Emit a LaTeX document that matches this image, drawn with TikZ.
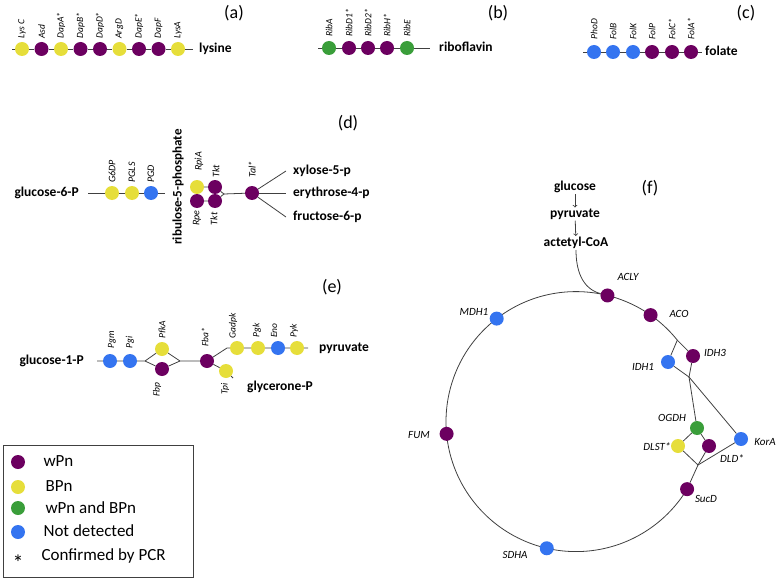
\documentclass[tikz,border=0pt]{standalone}
\usepackage{fontspec}
\setmainfont{Carlito}
\usepackage{tikz}
\usetikzlibrary{positioning, calc}
\definecolor{wpncol}{RGB}{108,0,96}
\definecolor{bpncol}{RGB}{230,222,58}
\definecolor{bothcol}{RGB}{58,158,58}
\definecolor{ndcol}{RGB}{52,116,240}

\begin{document}
\begin{tikzpicture}[
    x=1pt, y=1pt,
    >=to,
    genestate/.style={circle, minimum size=14pt, inner sep=0pt},
    wpnstate/.style={fill=wpncol},
    bpnstate/.style={fill=bpncol},
    bothstate/.style={fill=bothcol},
    ndstate/.style={fill=ndcol},
    pathline/.style={draw=black!75, line width=0.8pt},
    genelab/.style={font=\fontsize{9.5}{10}\selectfont\itshape, rotate=90, anchor=west, inner sep=0pt},
    genelabdown/.style={genelab, anchor=east},
    metlab/.style={font=\fontsize{13.5}{15}\selectfont\bfseries, inner sep=1pt},
    panellab/.style={font=\fontsize{18}{20}\selectfont},
    tcalab/.style={font=\fontsize{11}{12}\selectfont\itshape},
    leglab/.style={font=\fontsize{17}{19}\selectfont, anchor=west},
]
\useasboundingbox (0,0) rectangle (778,-580);

% -------------------------------------------------
% (a) lysine
% -------------------------------------------------
\coordinate (a0) at (12,-49);
\coordinate (a1) at (193,-49);
\node[genestate,bpnstate] (lysC) at (22,-49) {};
\node[genestate,wpnstate] (asd)  at (41.5,-49) {};
\node[genestate,bpnstate] (dapA) at (61,-49) {};
\node[genestate,wpnstate] (dapB) at (80.5,-49) {};
\node[genestate,wpnstate] (dapD) at (100,-49) {};
\node[genestate,bpnstate] (argD) at (119.5,-49) {};
\node[genestate,wpnstate] (dapE) at (139,-49) {};
\node[genestate,wpnstate] (dapF) at (158.5,-49) {};
\node[genestate,bpnstate] (lysA) at (178,-49) {};
\draw[pathline] (a0) -- (lysC) -- (asd) -- (dapA) -- (dapB) -- (dapD) -- (argD) -- (dapE) -- (dapF) -- (lysA) -- (a1);

\node[genelab] (tLysC) at ([yshift=3pt]lysC.north) {Lys C};
\node[genelab] (tAsd)  at ([yshift=3pt]asd.north) {Asd};
\node[genelab] (tDapA) at ([yshift=3pt]dapA.north) {DapA*};
\node[genelab] (tDapB) at ([yshift=3pt]dapB.north) {DapB*};
\node[genelab] (tDapD) at ([yshift=3pt]dapD.north) {DapD*};
\node[genelab] (tArgD) at ([yshift=3pt]argD.north) {ArgD};
\node[genelab] (tDapE) at ([yshift=3pt]dapE.north) {DapE*};
\node[genelab] (tDapF) at ([yshift=3pt]dapF.north) {DapF};
\node[genelab] (tLysA) at ([yshift=3pt]lysA.north) {LysA};

\node[metlab, anchor=west] (lysine) at (198,-49) {lysine};
\node[panellab] (pa) at (234,-13) {(a)};

% -------------------------------------------------
% (b) riboflavin
% -------------------------------------------------
\coordinate (b0) at (318,-48);
\coordinate (b1) at (430,-48);
\node[genestate,bothstate] (ribA)  at (329,-48) {};
\node[genestate,wpnstate]  (ribD1) at (349,-48) {};
\node[genestate,wpnstate]  (ribD2) at (368,-48) {};
\node[genestate,wpnstate]  (ribH)  at (387,-48) {};
\node[genestate,bothstate] (ribE)  at (407,-48) {};
\draw[pathline] (b0) -- (ribA) -- (ribD1) -- (ribD2) -- (ribH) -- (ribE) -- (b1);

\node[genelab] (tRibA)  at ([yshift=4pt]ribA.north) {RibA};
\node[genelab] (tRibD1) at ([yshift=4pt]ribD1.north) {RibD1*};
\node[genelab] (tRibD2) at ([yshift=4pt]ribD2.north) {RibD2*};
\node[genelab] (tRibH)  at ([yshift=4pt]ribH.north) {RibH*};
\node[genelab] (tRibE)  at ([yshift=4pt]ribE.north) {RibE};

\node[metlab, anchor=west] (ribofl) at (438,-47) {riboflavin};
\node[panellab] (pb) at (498,-13) {(b)};

% -------------------------------------------------
% (c) folate
% -------------------------------------------------
\coordinate (c0) at (583,-52);
\coordinate (c1) at (702,-52);
\node[genestate,ndstate]  (phoD) at (594,-52) {};
\node[genestate,ndstate]  (folB) at (613,-52) {};
\node[genestate,ndstate]  (folK) at (633,-52) {};
\node[genestate,wpnstate] (folP) at (652,-52) {};
\node[genestate,wpnstate] (folC) at (672,-52) {};
\node[genestate,wpnstate] (folA) at (691,-52) {};
\draw[pathline] (c0) -- (phoD) -- (folB) -- (folK) -- (folP) -- (folC) -- (folA) -- (c1);

\node[genelab] (tPhoD) at ([yshift=5pt]phoD.north) {PhoD};
\node[genelab] (tFolB) at ([yshift=5pt]folB.north) {FolB};
\node[genelab] (tFolK) at ([yshift=5pt]folK.north) {FolK};
\node[genelab] (tFolP) at ([yshift=5pt]folP.north) {FolP};
\node[genelab] (tFolC) at ([yshift=5pt]folC.north) {FolC*};
\node[genelab] (tFolA) at ([yshift=5pt]folA.north) {FolA*};

\node[metlab, anchor=west] (folate) at (704,-51) {folate};
\node[panellab] (pc) at (746,-13) {(c)};

% -------------------------------------------------
% (d) pentose phosphate
% -------------------------------------------------
\node[metlab, anchor=east] (glc6p) at (80,-193) {glucose-6-P};
\coordinate (d0) at (88,-193);
\coordinate (d1) at (165,-193);
\node[genestate,bpnstate] (g6dp) at (112,-193) {};
\node[genestate,bpnstate] (pgls) at (132,-193) {};
\node[genestate,ndstate]  (pgd)  at (151,-193) {};
\draw[pathline] (d0) -- (g6dp) -- (pgls) -- (pgd) -- (d1);

\node[metlab, rotate=90, font=\fontsize{13}{14}\selectfont\bfseries] (ru5p) at (178,-187) {ribulose-5-phosphate};

\node[genestate,bpnstate] (rpiA) at (197,-187) {};
\node[genestate,wpnstate] (tkt1) at (215,-187) {};
\node[genestate,wpnstate] (rpe)  at (197,-201) {};
\node[genestate,wpnstate] (tkt2) at (215,-201) {};
\coordinate (d2) at (224,-194);
\node[genestate,wpnstate] (tal)  at (252,-193) {};
\draw[pathline] (rpiA) -- (tkt1) -- (d2) -- (tkt2) -- (rpe);
\draw[pathline] (d2) -- (tal);

\node[metlab, anchor=west] (x5p) at (292,-171) {xylose-5-p};
\node[metlab, anchor=west] (e4p) at (292,-193) {erythrose-4-p};
\node[metlab, anchor=west] (f6p) at (292,-217) {fructose-6-p};
\draw[pathline] (tal) -- ([xshift=-6pt]x5p.west);
\draw[pathline] (tal) -- ([xshift=-6pt]e4p.west);
\draw[pathline] (tal) -- ([xshift=-6pt]f6p.west);

\node[genelab, font=\fontsize{10}{11}\selectfont\itshape] (tG6DP) at ([yshift=3pt]g6dp.north) {G6DP};
\node[genelab, font=\fontsize{10}{11}\selectfont\itshape] (tPGLS) at ([yshift=3pt]pgls.north) {PGLS};
\node[genelab, font=\fontsize{10}{11}\selectfont\itshape] (tPGD)  at ([yshift=3pt]pgd.north) {PGD};
\node[genelab, font=\fontsize{10}{11}\selectfont\itshape] (tRpiA) at ([xshift=2pt,yshift=9pt]rpiA.north) {RpiA};
\node[genelab, font=\fontsize{10}{11}\selectfont\itshape] (tTkt1) at ([xshift=1pt,yshift=2pt]tkt1.north) {Tkt};
\node[genelabdown, font=\fontsize{10}{11}\selectfont\itshape] (tRpe)  at ([yshift=-2pt]rpe.south) {Rpe};
\node[genelabdown, font=\fontsize{10}{11}\selectfont\itshape] (tTkt2) at ([xshift=-1pt,yshift=-4pt]tkt2.south) {Tkt};
\node[genelab, font=\fontsize{10}{11}\selectfont\itshape] (tTal)  at ([yshift=8pt]tal.north) {Tal*};

\node[panellab] (pd) at (348,-123) {(d)};

% -------------------------------------------------
% (e) glycolysis
% -------------------------------------------------
\node[metlab, anchor=east] (glc1p) at (85,-361) {glucose-1-P};
\coordinate (e0) at (97,-361);
\node[genestate,ndstate]  (pgm) at (110,-361) {};
\node[genestate,ndstate]  (pgi) at (130,-361) {};
\coordinate (e1) at (145,-361);
\node[genestate,bpnstate] (pfkA) at (162,-349) {};
\node[genestate,wpnstate] (fbp)  at (162,-369) {};
\coordinate (e2) at (180,-361);
\node[genestate,wpnstate] (fba)  at (207,-361) {};
\coordinate (e3) at (227,-348);
\node[genestate,bpnstate] (gadpk) at (237,-348) {};
\node[genestate,bpnstate] (pgk)   at (258,-348) {};
\node[genestate,ndstate]  (eno)   at (278,-348) {};
\node[genestate,bpnstate] (pyk)   at (297,-348) {};
\coordinate (e4) at (308,-348);
\node[genestate,bpnstate] (tpi) at (226,-371) {};
\coordinate (e5) at (233,-378);

\draw[pathline] (e0) -- (pgm) -- (pgi) -- (e1) -- (pfkA) -- (e2) -- (fba);
\draw[pathline] (e1) -- (fbp) -- (e2);
\draw[pathline] (fba) -- (e3) -- (gadpk) -- (pgk) -- (eno) -- (pyk) -- (e4);
\draw[pathline] (fba) -- (tpi) -- (e5);

\node[metlab, anchor=west] (pyrE) at (318,-348) {pyruvate};
\node[metlab, anchor=west] (dhap) at (246,-387) {glycerone-P};

\node[genelab] (tPgm)   at ([xshift=2pt,yshift=5pt]pgm.north) {Pgm};
\node[genelab] (tPgi)   at ([yshift=5pt]pgi.north) {Pgi};
\node[genelab] (tPfkA)  at ([yshift=3pt]pfkA.north) {PfkA};
\node[genelabdown] (tFbp) at ([xshift=-5pt,yshift=-6pt]fbp.south) {Fbp};
\node[genelab] (tFba)   at ([xshift=-2pt,yshift=7pt]fba.north) {Fba*};
\node[genelab] (tGadpk) at ([xshift=-4pt,yshift=2pt]gadpk.north) {Gadpk};
\node[genelab] (tPgk)   at ([xshift=-1pt,yshift=3pt]pgk.north) {Pgk};
\node[genelab] (tEno)   at ([xshift=-4pt,yshift=3pt]eno.north) {Eno};
\node[genelab] (tPyk)   at ([xshift=-3pt,yshift=3pt]pyk.north) {Pyk};
\node[genelabdown] (tTpi) at ([xshift=-1pt,yshift=-5pt]tpi.south) {Tpi};

\node[panellab] (pe) at (332,-287) {(e)};

% -------------------------------------------------
% (f) TCA cycle
% -------------------------------------------------
\node[metlab] (glc)  at (575,-187) {glucose};
\node[metlab] (pyrF) at (575,-214) {pyruvate};
\node[metlab] (acoa) at (576,-243) {actetyl-CoA};
\draw[pathline, ->] (glc) -- (pyrF);
\draw[pathline, ->] (pyrF) -- (acoa);

\coordinate (tca) at (576,-421.6);
\coordinate (ft) at ([shift={(38.8:130)}]tca);
\draw[pathline] (ft) arc[start angle=38.8, end angle=328.7, radius=130];

\node[genestate,wpnstate] (acly) at ([shift={(76:130)}]tca) {};
\node[genestate,wpnstate] (aco)  at ([shift={(55:130)}]tca) {};
\node[genestate,ndstate]  (mdh1) at ([shift={(127.6:130)}]tca) {};
\node[genestate,wpnstate] (fum)  at ([shift={(185.4:130)}]tca) {};
\node[genestate,ndstate]  (sdha) at ([shift={(257:130)}]tca) {};
\node[genestate,wpnstate] (sucD) at ([shift={(-31.3:130)}]tca) {};

\draw[pathline] (acoa) to[out=-90, in=165] (acly);

\node[genestate,wpnstate]  (idh3) at (693,-356) {};
\node[genestate,ndstate]   (idh1) at (668,-362) {};
\coordinate (fb) at (689,-377);
\node[genestate,bothstate] (ogdh) at (697,-428) {};
\node[genestate,bpnstate]  (dlst) at (678,-446) {};
\node[genestate,wpnstate]  (dld)  at (709,-446) {};
\node[genestate,ndstate]   (korA) at (741,-439) {};
\coordinate (fj) at (698,-465);

\draw[pathline] (ft) -- (idh3) -- (fb);
\draw[pathline] (ft) -- (idh1) -- (fb);
\draw[pathline] (fb) -- (ogdh);
\draw[pathline] (fb) -- (korA);
\draw[pathline] (ogdh) -- (dlst) -- (fj);
\draw[pathline] (ogdh) -- (dld) -- (fj);
\draw[pathline] (korA) -- (fj) -- (sucD);

\node[tcalab] (tACLY) at (628,-277) {ACLY};
\node[tcalab] (tACO)  at (679,-314) {ACO};
\node[tcalab] (tMDH1) at (474,-312) {MDH1};
\node[tcalab] (tFUM)  at (419,-435) {FUM};
\node[tcalab] (tSDHA) at (515,-555) {SDHA};
\node[tcalab] (tSucD) at (706,-499) {SucD};
\node[tcalab] (tIDH3) at (715,-353) {IDH3};
\node[tcalab] (tIDH1) at (643,-367) {IDH1};
\node[tcalab] (tOGDH) at (672,-418) {OGDH};
\node[tcalab] (tDLST) at (657,-447) {DLST*};
\node[tcalab] (tDLD)  at (732,-459) {DLD*};
\node[tcalab] (tKorA) at (765,-442) {KorA};

\node[panellab] (pf) at (650,-188) {(f)};

% -------------------------------------------------
% Legend
% -------------------------------------------------
\coordinate (legA) at (3,-445);
\coordinate (legB) at (193,-577);
\draw[black!75, line width=0.9pt] (legA) rectangle (legB);

\node[genestate,wpnstate]  (kWpn)  at (18,-462) {};
\node[genestate,bpnstate]  (kBpn)  at (18,-487) {};
\node[genestate,bothstate] (kBoth) at (18,-508) {};
\node[genestate,ndstate]   (kNd)   at (18,-532) {};
\node[font=\fontsize{22}{24}\selectfont] (kPcr) at (18,-563) {*};

\node[leglab] (lWpn)  at (40,-461) {wPn};
\node[leglab] (lBpn)  at (42,-486) {BPn};
\node[leglab] (lBoth) at (42,-508) {wPn and BPn};
\node[leglab] (lNd)   at (40,-531) {Not detected};
\node[leglab] (lPcr)  at (38,-556) {Confirmed by PCR};

\end{tikzpicture}
\end{document}
